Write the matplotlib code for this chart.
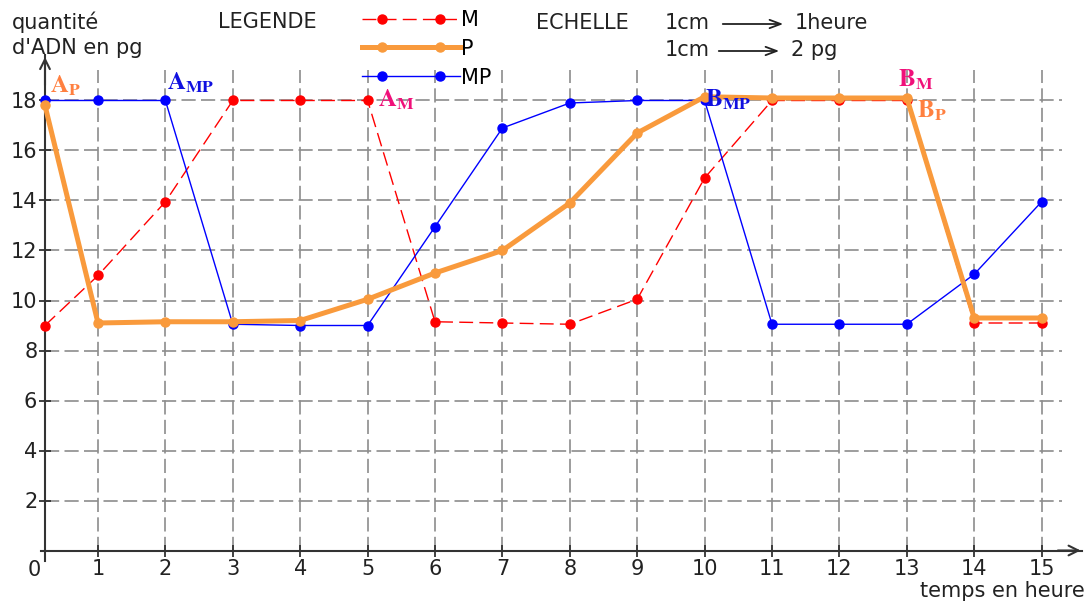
import numpy as np
import matplotlib
matplotlib.use("Agg")
import matplotlib.pyplot as plt
from matplotlib.lines import Line2D
from matplotlib.legend_handler import HandlerLine2D

plt.rcParams['font.family'] = ['DejaVu Sans']
plt.rcParams['mathtext.fontset'] = 'stix'

# donnees
heures = np.arange(0, 16)
M = [9.0, 11.0, 13.95, 18.0, 18.0, 18.0, 9.15, 9.1, 9.05, 10.05, 14.9, 18.0, 18.0, 18.0, 9.1, 9.1]
P = [17.8, 9.1, 9.15, 9.15, 9.2, 10.05, 11.1, 12.0, 13.9, 16.7, 18.15, 18.1, 18.1, 18.1, 9.3, 9.3]
MP = [18.0, 18.0, 18.0, 9.05, 9.0, 9.0, 12.95, 16.9, 17.9, 18.0, 18.0, 9.05, 9.05, 9.05, 11.05, 13.95]
yticks = np.arange(2, 20, 2)

W, H = 1088, 601
K = 53 / 67.4   # la premiere heure est plus courte sur le dessin


def fwd(x):
    x = np.asarray(x, dtype=float)
    return np.where(x < 1, x * K, x - 1 + K)


def inv(u):
    u = np.asarray(u, dtype=float)
    return np.where(u < K, u / K, u + 1 - K)


def fpx(x, y):
    # pixels de l'image -> fraction de la figure
    return x / W, 1 - y / H


class LigneLongue(HandlerLine2D):
    # trait sur toute la longueur, deux points un peu en retrait
    def create_artists(self, legend, orig_handle, xdescent, ydescent,
                       width, height, fontsize, trans):
        y = height / 2 - ydescent
        x0, x1 = -xdescent, -xdescent + width
        trait = Line2D([x0, x1], [y, y])
        self.update_prop(trait, orig_handle, legend)
        trait.set_marker('')
        pad = 0.95 * fontsize
        points = Line2D([x0 + pad, x1 - pad], [y, y])
        self.update_prop(points, orig_handle, legend)
        points.set_linestyle('None')
        trait.set_transform(trans)
        points.set_transform(trans)
        return [trait, points]


fig = plt.figure(figsize=(W / 100, H / 100), dpi=100)
ax = fig.add_axes([0, 0, 1, 1])
ax.set_xscale('function', functions=(fwd, inv))
ax.set_xlim(inv(-45 / 67.4), inv((W - 45) / 67.4))
ax.set_ylim(-2.02, 22.02)

# grille
grid_kw = dict(color='#8c8c8c', lw=1.2, linestyle=(0, (8.5, 3.2)), zorder=1)
ax.vlines(heures[1:], 0, 19.2, **grid_kw)
ax.hlines(yticks, 0, 15.3, **grid_kw)

# courbes
ax.plot(heures, M, color='#ff0000', lw=1.0, linestyle=(0, (10, 4.5)),
        marker='o', ms=6.5, zorder=3, label='M')
ax.plot(heures, MP, color='#0000ff', lw=1.0, marker='o', ms=6.5,
        zorder=4, label='MP')
ax.plot(heures, P, color='#f99a3c', lw=3.6, marker='o', ms=6.5,
        zorder=5, label='P')

# axes
for s in ['top', 'right']:
    ax.spines[s].set_visible(False)
ax.spines['left'].set_position(('data', 0))
ax.spines['bottom'].set_position(('data', 0))
ax.spines['left'].set_bounds(-0.4, 19.8)
ax.spines['bottom'].set_bounds(-0.08, 15.6)
for s in ['left', 'bottom']:
    ax.spines[s].set_color('#333333')
    ax.spines[s].set_linewidth(1.5)
arrow_kw = dict(arrowstyle='->,head_length=0.7,head_width=0.35', color='#333333', lw=1.5)
ax.annotate('', xy=(0, 19.85), xytext=(0, 18.5), arrowprops=arrow_kw)
ax.annotate('', xy=(15.62, 0), xytext=(15.2, 0), arrowprops=arrow_kw)

ax.set_xticks(heures[1:])
ax.set_xticklabels([str(h) for h in heures[1:]])
ax.set_yticks(yticks)
ax.set_yticklabels([str(v) for v in yticks])
ax.tick_params(direction='inout', length=9, width=1.3, color='#333333',
               labelsize=15, labelcolor='#222222')
ax.tick_params(axis='x', pad=1.5)
ax.tick_params(axis='y', pad=1)
ax.text(-0.08, -0.4, '0', ha='right', va='top', fontsize=15, color='#222222')

# lettres A et B
notes = [
    (0.09, 18.32, r'$\mathbf{A}_{\mathbf{P}}$', '#ff8040'),
    (2.02, 18.44, r'$\mathbf{A}_{\mathbf{MP}}$', '#1010e0'),
    (5.15, 17.76, r'$\mathbf{A}_{\mathbf{M}}$', '#f0107a'),
    (10.0, 17.76, r'$\mathbf{B}_{\mathbf{MP}}$', '#1010e0'),
    (12.87, 18.56, r'$\mathbf{B}_{\mathbf{M}}$', '#f0107a'),
    (13.15, 17.32, r'$\mathbf{B}_{\mathbf{P}}$', '#ff8040'),
]
for x, y, t, c in notes:
    ax.text(x, y, t, color=c, fontsize=18, ha='left', va='baseline', zorder=6)

# textes du haut
txt = dict(fontsize=15, color='#222222', va='center')
fig.text(*fpx(12, 22), 'quantité', **txt)
fig.text(*fpx(12, 48), "d'ADN en pg", **txt)
fig.text(*fpx(218, 22), 'LEGENDE', **txt)
fig.text(*fpx(536, 23), 'ECHELLE', **txt)
fig.text(*fpx(665, 23), '1cm', **txt)
fig.text(*fpx(795, 23), '1heure', **txt)
fig.text(*fpx(665, 50), '1cm', **txt)
fig.text(*fpx(791, 50), '2 pg', **txt)
fig.text(*fpx(1085, 591), 'temps en heure', ha='right', **txt)
ech_kw = dict(arrowstyle='->,head_length=0.8,head_width=0.3', color='#222222', lw=1.3)
ax.annotate('', xy=(786, H - 24), xytext=(720, H - 24), xycoords='figure pixels',
            textcoords='figure pixels', arrowprops=ech_kw)
ax.annotate('', xy=(782, H - 51), xytext=(716, H - 51), xycoords='figure pixels',
            textcoords='figure pixels', arrowprops=ech_kw)

# legende
h, l = ax.get_legend_handles_labels()
ordre = [l.index('M'), l.index('P'), l.index('MP')]
ax.legend([h[i] for i in ordre], [l[i] for i in ordre], loc='upper left',
          bbox_to_anchor=fpx(362, 10), bbox_transform=fig.transFigure,
          frameon=False, fontsize=15, handlelength=4.7, handletextpad=0.05,
          labelspacing=0.42, borderpad=0, borderaxespad=0,
          handler_map={Line2D: LigneLongue()})

fig.savefig('out.png', dpi=100)
